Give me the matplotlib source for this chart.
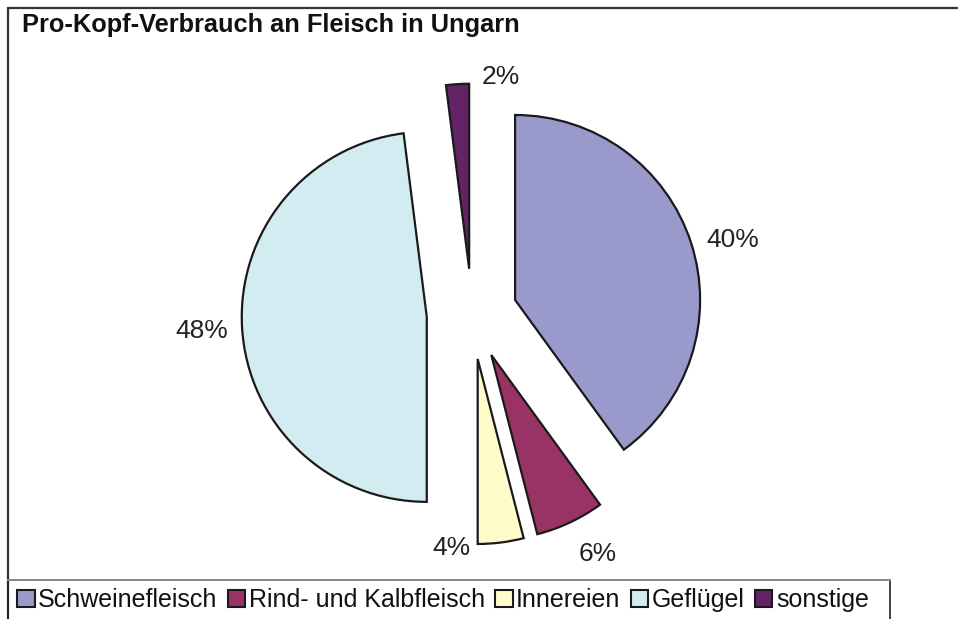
import numpy as np
import matplotlib.pyplot as plt
from matplotlib.patches import Rectangle, Patch

plt.rcParams['font.family'] = ['Liberation Sans', 'DejaVu Sans']

title = "Pro-Kopf-Verbrauch an Fleisch in Ungarn"
categories = ["Schweinefleisch", "Rind- und Kalbfleisch", "Innereien", "Geflügel", "sonstige"]
values = [40, 6, 4, 48, 2]
colors = ["#9999CC", "#993366", "#FFFCCC", "#D2ECF2", "#632366"]

W, H = 958, 619
fig = plt.figure(figsize=(W / 100, H / 100), dpi=100)
ax = fig.add_axes([0, 0, 1, 1])

R = 185
center = (472, H - 314)
# matplotlib's explode is in data units, not a fraction of the radius
wedges, texts, autotexts = ax.pie(
    values, colors=colors, startangle=90, counterclock=False,
    radius=R, center=center, explode=[0.245 * R] * len(values),
    autopct=lambda p: f"{p:.0f}%", pctdistance=1.22,
    wedgeprops=dict(edgecolor="#1a1a1a", linewidth=1.6),
    textprops=dict(fontsize=19, color="#222222"), frame=True)
ax.set_xlim(0, W)
ax.set_ylim(0, H)
ax.set_aspect("auto")
ax.axis("off")

# small slices: Excel pulls their labels closer in
dist = [1.22, 1.22, 1.03, 1.22, 1.05]
turn = [-2.5, 3, -15, 0, -13]
for w, t, d, a in zip(wedges, autotexts, dist, turn):
    mid = np.deg2rad((w.theta1 + w.theta2) / 2 + a)
    cx, cy = w.center
    t.set_position((cx + d * R * np.cos(mid), cy + d * R * np.sin(mid)))
    t.set_ha("center")
    t.set_va("center")

fig.text(22 / W, 1 - 25 / H, title, fontsize=18.3, fontweight="bold",
         va="center", ha="left", color="#111111")

# outer frame and legend box
fig.add_artist(Rectangle((8 / W, -0.1), 1.2, 1.1 - 8 / H, transform=fig.transFigure,
                         fill=False, edgecolor="#333333", linewidth=1.6))
fig.add_artist(Rectangle((8 / W, -0.1), (890 - 8) / W, 0.1 + (H - 580) / H,
                         transform=fig.transFigure, fill=False,
                         edgecolor="#222222", linewidth=1.2))
fig.add_artist(plt.Line2D([8 / W, 890 / W], [1 - 580 / H] * 2, transform=fig.transFigure,
                          color="#8a8a8a", linewidth=1.4))

handles = [Patch(facecolor=c, edgecolor="#1a1a1a", linewidth=1.5) for c in colors]
fig.legend(handles, categories, loc="center left", bbox_to_anchor=(17 / W, 1 - 600 / H),
           ncol=5, frameon=False, fontsize=18, handlelength=0.7, handleheight=0.7,
           handletextpad=0.15, columnspacing=0.4, borderpad=0, borderaxespad=0,
           labelcolor="#111111")

fig.savefig("out.png", dpi=100)
